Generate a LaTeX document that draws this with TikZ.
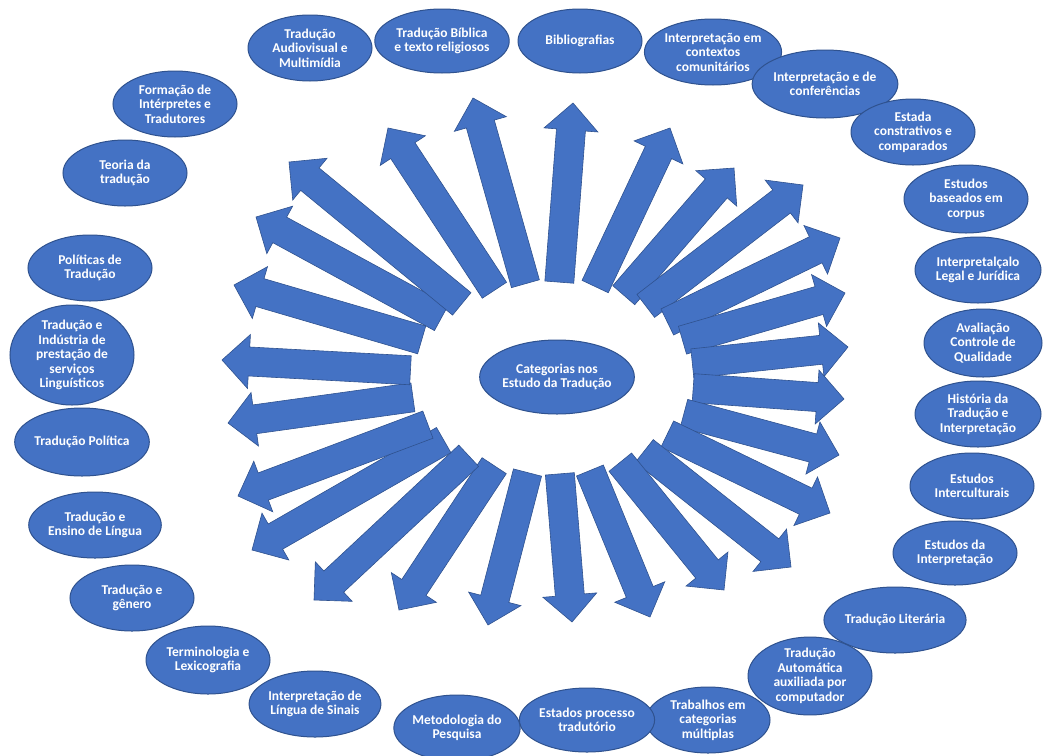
\documentclass[tikz,border=0pt]{standalone}
\usepackage{fontspec}
\setmainfont{Carlito}
\usetikzlibrary{calc,shapes.geometric}
\definecolor{blu}{HTML}{4472C4}
\definecolor{blud}{HTML}{2F528F}
\tikzset{
  catnode/.style={ellipse, fill=blu, draw=blud, line width=1pt, inner sep=0pt,
    minimum width=124pt, minimum height=66pt, text=white, align=center,
    font=\bfseries\fontsize{13.5}{14.5}\selectfont},
  arrstyle/.style={fill=blu, draw=blud, line width=0.6pt, line join=miter},
}
% block arrow from named tail #1 to named tip #2
\newcommand\barrow[2]{%
  \filldraw[arrstyle] let \p1=(#1), \p2=(#2),
    \n1={atan2(\y2-\y1,\x2-\x1)},
    \n2={veclen(\x2-\x1,\y2-\y1)-27} in
    ($(\p1)+(\n1+90:14.5pt)$) --
    ($(\p1)+(\n1:\n2)+(\n1+90:14.5pt)$) --
    ($(\p1)+(\n1:\n2)+(\n1+90:27pt)$) --
    (\p2) --
    ($(\p1)+(\n1:\n2)+(\n1-90:27pt)$) --
    ($(\p1)+(\n1:\n2)+(\n1-90:14.5pt)$) --
    ($(\p1)+(\n1-90:14.5pt)$) -- cycle;}
% spoke: tail on inner ellipse around (ctr), tip #1
\newcommand\ray[1]{%
  \path let \p1=($(#1)-(ctr)$),
    \n1={veclen(\x1,\y1)/sqrt((\x1/142)*(\x1/142)+(\y1/96)*(\y1/96))} in
    ($(ctr)!\n1!(#1)$) coordinate (s#1);
  \barrow{s#1}{#1}}
\begin{document}
\begin{tikzpicture}[x=1pt,y=-1pt]
\useasboundingbox (0,0) rectangle (1043,755);
\fill[white] (0,0) rectangle (1043,755);

% centre
\node[catnode, minimum width=140pt, minimum height=74pt] (hub) at (557,377) {Categorias nos\\Estudo da Tradução};
\coordinate (ctr) at (552,378);

% categories
\node[catnode] (A) at (310,48) {Tradução\\Audiovisual e\\Multimídia};
\node[catnode, minimum height=64pt] (B) at (442,41) {Tradução Bíblica\\e texto religiosos};
\node[catnode, minimum height=64pt] (C) at (580,41) {Bibliografias};
\node[catnode] (D) at (713,52) {Interpretação em\\contextos\\comunitários};
\node[catnode, minimum width=118pt, minimum height=68pt] (E) at (825,84) {Interpretação e de\\conferências};
\node[catnode] (F) at (913,132) {Estada\\constrativos e\\comparados};
\node[catnode, minimum height=68pt] (G) at (966,199) {Estudos\\baseados em\\corpus};
\node[catnode, minimum width=126pt] (H) at (978,270) {Interpretalçalo\\Legal e Jurídica};
\node[catnode, minimum width=118pt, minimum height=68pt] (I) at (983,343) {Avaliação\\Controle de\\Qualidade};
\node[catnode, minimum width=126pt] (J) at (978,414) {História da\\Tradução e\\Interpretação};
\node[catnode] (K) at (972,486) {Estudos\\Interculturais};
\node[catnode, minimum height=64pt] (L) at (955,553) {Estudos da\\Interpretação};
\node[catnode] (M) at (895,620) {Tradução Literária};
\node[catnode] (N) at (810,676) {Tradução\\Automática\\auxiliada por\\computador};
\node[catnode] (O) at (708,720) {Trabalhos em\\categorias\\múltiplas};
\node[catnode, minimum height=64pt] (P) at (587,720) {Estados processo\\tradutório};
\node[catnode] (Q) at (457,728) {Metodologia do\\Pesquisa};
\node[catnode] (R) at (315,704) {Interpretação de\\Língua de Sinais};
\node[catnode, minimum height=68pt] (S) at (208,660) {Terminologia e\\Lexicografia};
\node[catnode] (T) at (132,598) {Tradução e\\gênero};
\node[catnode] (U) at (95,525) {Tradução e\\Ensino de Língua};
\node[catnode, minimum width=126pt, minimum height=68pt] (V) at (82,442) {Tradução Política};
\node[catnode, minimum height=100pt] (W) at (72,355) {Tradução e\\Indústria de\\prestação de\\serviços\\Linguísticos};
\node[catnode] (X) at (90,268) {Políticas de\\Tradução};
\node[catnode] (Y) at (125,173) {Teoria da\\tradução};
\node[catnode] (Z) at (175,104) {Formação de\\Intérpretes e\\Tradutores};

% arrow tips
\coordinate (tC) at (573,103);
\coordinate (tB) at (473,98);
\coordinate (tA) at (388,128);
\coordinate (tZ) at (289,162);
\coordinate (tY) at (256,217);
\coordinate (tX) at (234,285);
\coordinate (tW) at (222,360);
\coordinate (tV) at (228,423);
\coordinate (tU) at (238,496);
\coordinate (tT) at (252,550);
\coordinate (tS) at (314,600);
\coordinate (tR) at (399,610);
\coordinate (tQ) at (488,625);
\coordinate (tP) at (572,622);
\coordinate (tO) at (650,617);
\coordinate (tN) at (724,590);
\coordinate (tM) at (791,567);
\coordinate (tL) at (830,513);
\coordinate (tK) at (839,455);
\coordinate (tJ) at (844,399);
\coordinate (tI) at (848,347);
\coordinate (tH) at (845,293);
\coordinate (tG) at (840,238);
\coordinate (tF) at (803,185);
\coordinate (tE) at (734,168);
\coordinate (tD) at (670,128);

\foreach \k in {A,B,C,D,E,F,G,H,I,J,K,L,M,N,O,P,Q,R,S,T,U,V,W,X,Y,Z}{\ray{t\k}}
\end{tikzpicture}
\end{document}
